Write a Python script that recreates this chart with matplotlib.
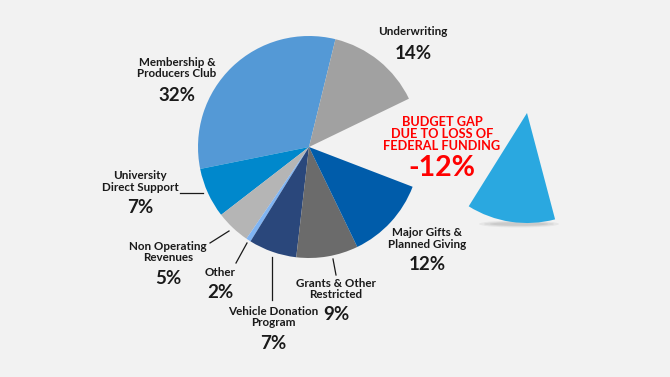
import matplotlib.pyplot as plt
from matplotlib.patches import Wedge, Ellipse

# slices going counter-clockwise from the top
names = ['Membership &\nProducers Club', 'University\nDirect Support', 'Non Operating\nRevenues',
         'Other', 'Vehicle Donation\nProgram', 'Grants & Other\nRestricted',
         'Major Gifts &\nPlanned Giving', 'gap', 'Underwriting']
pct_labels = ['32%', '7%', '5%', '2%', '7%', '9%', '12%', '-12%', '14%']
# slice sizes as drawn in the picture (the "Other" sliver is drawn thinner than 2%)
shares = [32, 7.3, 5, 0.7, 7, 9, 12, 13, 14]
colors = ['#5499d6', '#0088cc', '#b5b5b5', '#80b4f2', '#2a477b', '#6b6b6b', '#005caa', 'none', '#a1a1a1']

W, H = 670, 377
BG = '#f2f2f2'
DARK = '#1a1a1a'
FONT = 'Lato'

fig = plt.figure(figsize=(6.7, 3.77), dpi=100, facecolor=BG)
ax = fig.add_axes([0, 0, 1, 1])
ax.set_facecolor(BG)

cx, cy, r = 309, H - 147, 111
wedges, _ = ax.pie(shares, colors=colors, startangle=76.2, counterclock=True,
                   center=(cx, cy), radius=r, frame=True,
                   wedgeprops=dict(linewidth=0))
wedges[7].set_visible(False)

# the missing slice, pulled out to the right (with a soft shadow)
gx, gy = 527, H - 113
for w, h, a in [(80, 7, 0.12), (70, 5, 0.15), (58, 3.5, 0.2)]:
    ax.add_patch(Ellipse((519, H - 224), w, h, color='#909090', alpha=a, lw=0))
t1 = -122
ax.add_patch(Wedge((gx, gy), 110, t1, t1 + shares[7] * 3.6, color='#2aa8e0', lw=0))

# label placement in pixels: (x, name y, pct y)
spots = [(177, 66.5, 93), (140, 180, 205), (168, 250.5, 275.5), (220, 271, 289.5),
         (273, 315.5, 340.7), (336, 287.5, 312.3), (427, 237, 262.3), None, (413, 30, 51)]
for i, s in enumerate(spots):
    if s is None:
        continue
    x, ny, py = s
    ax.text(x, H - ny - 1.5, names[i], ha='center', va='center', fontsize=8.4,
            fontweight='bold', color=DARK, family=FONT, linespacing=1.1)
    ax.text(x, H - py - 2.5, pct_labels[i], ha='center', va='center', fontsize=13.5,
            fontweight='bold', color=DARK, family=FONT)

ax.text(442, H - 134, 'BUDGET GAP\nDUE TO LOSS OF\nFEDERAL FUNDING', ha='center', va='center',
        fontsize=9.2, fontweight='bold', color='#ff0000', family=FONT, linespacing=0.95)
ax.text(442, H - 168.5, pct_labels[7], ha='center', va='center', fontsize=20.5,
        fontweight='bold', color='#ff0000', family=FONT)

# leader lines
leaders = [((180, 193), (203, 193)), ((210, 243), (229, 231)), ((236, 263), (247, 243)),
           ((272, 300), (272, 257)), ((336, 275), (333, 259))]
for (x0, y0), (x1, y1) in leaders:
    ax.plot([x0, x1], [H - y0, H - y1], color=DARK, lw=0.9)

ax.set_xlim(0, W)
ax.set_ylim(0, H)
ax.set_aspect('equal')
ax.axis('off')
fig.savefig('out.png', dpi=100, facecolor=BG)
